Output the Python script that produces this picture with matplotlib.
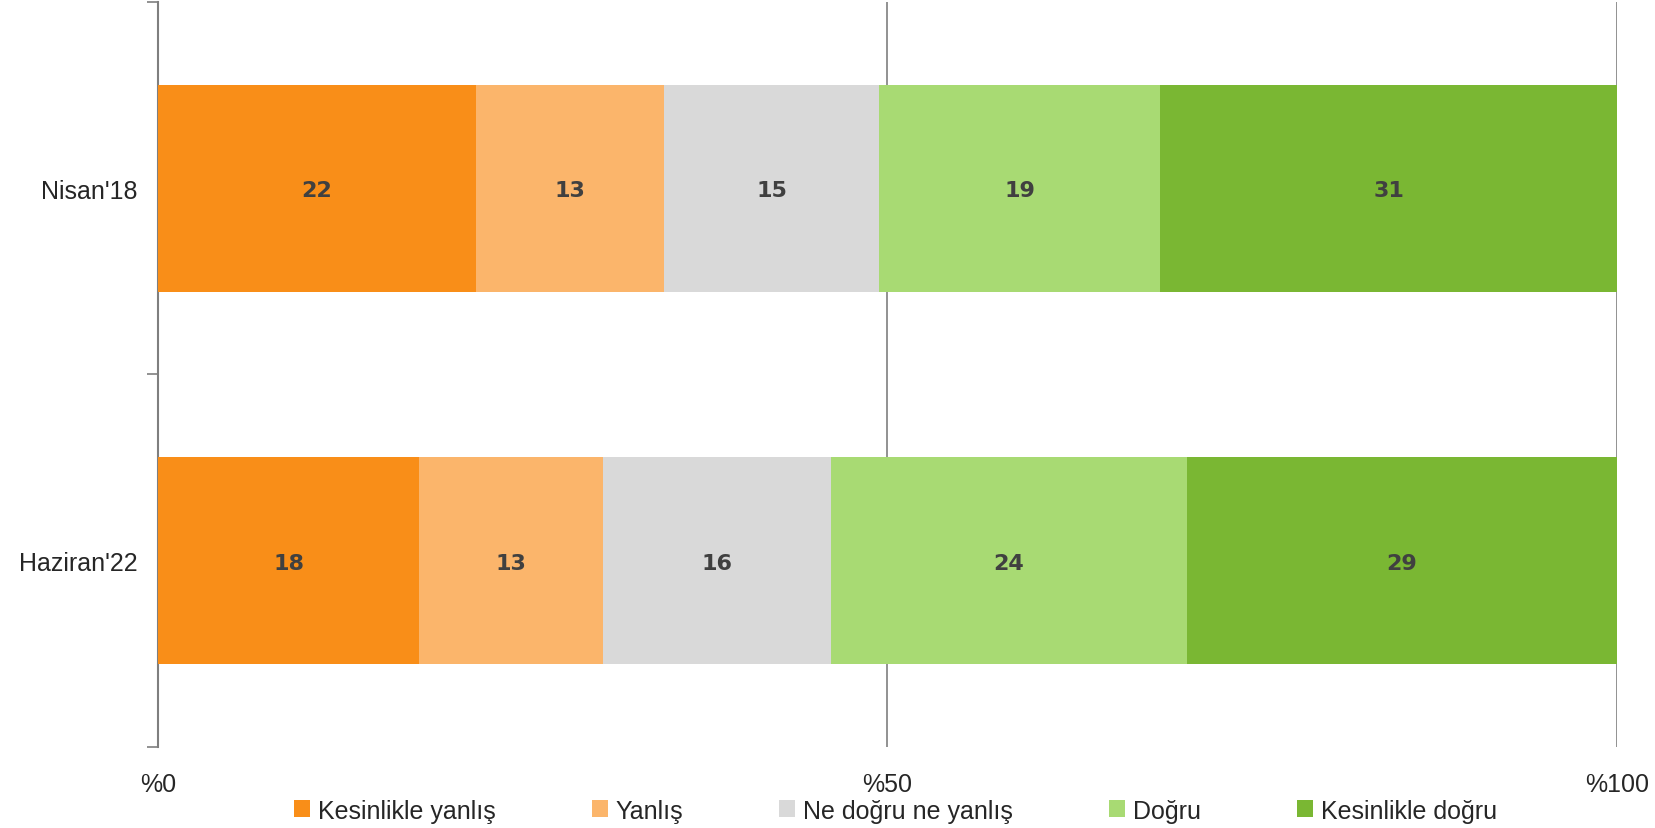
import matplotlib
matplotlib.use("Agg")
import matplotlib.pyplot as plt
from matplotlib.patches import Patch

# ---------------------- DATA ----------------------
periods = ["Nisan'18", "Haziran'22"]
answers = ["Kesinlikle yanlış", "Yanlış", "Ne doğru ne yanlış", "Doğru", "Kesinlikle doğru"]
nisan18 = [21.8, 12.9, 14.7, 19.3, 31.3]
haziran22 = [17.9, 12.6, 15.6, 24.45, 29.45]
colors = ["#F98E18", "#FBB56B", "#D9D9D9", "#A8DA73", "#7AB733"]
xticks = [0, 50, 100]
xtick_labels = ["%0", "%50", "%100"]

plt.rcParams["font.family"] = ["Liberation Sans", "DejaVu Sans"]

fig = plt.figure(figsize=(16.55, 8.29), dpi=100)
ax = fig.add_axes([0.0955, 0.0977, 0.8815, 0.8987])

rows = [nisan18, haziran22]
ypos = [0, 1]
for y, vals in zip(ypos, rows):
    left = 0
    for v, c in zip(vals, colors):
        ax.barh(y, v, left=left, height=0.556, color=c, zorder=3)
        # value label in the middle of each segment
        ax.text(left + v / 2, y + 0.005, f"{round(v)}", ha="center", va="center",
                fontsize=16, fontweight="heavy", color="#404040",
                family="DejaVu Sans", zorder=4)
        left += v

ax.set_xlim(0, 100)
ax.set_ylim(1.5, -0.5)
ax.set_xticks(xticks)
ax.set_xticklabels(xtick_labels, fontsize=18, color="#262626")
ax.tick_params(axis="x", length=0, pad=18)
ax.xaxis.grid(True, color="#7F7F7F", linewidth=1.2, zorder=0)

ax.set_yticks(ypos)
ax.set_yticklabels(periods, fontsize=18, color="#262626")
ax.tick_params(axis="y", length=0, pad=15)
ax.set_yticks([-0.5, 0.5, 1.5], minor=True)
ax.tick_params(axis="y", which="minor", length=8, color="#7F7F7F", width=1.2)

for s in ["top", "right", "bottom"]:
    ax.spines[s].set_visible(False)
ax.spines["left"].set_color("#7F7F7F")
ax.spines["left"].set_linewidth(1.5)

handles = [Patch(facecolor=c, edgecolor="none") for c in colors]
fig.legend(handles, answers, loc="center", bbox_to_anchor=(0.541, 0.021), ncol=5,
           frameon=False, fontsize=18, handlelength=0.65, handleheight=0.65,
           handletextpad=0.3, columnspacing=3.85, labelcolor="#262626")

fig.savefig("out.png", dpi=100)
